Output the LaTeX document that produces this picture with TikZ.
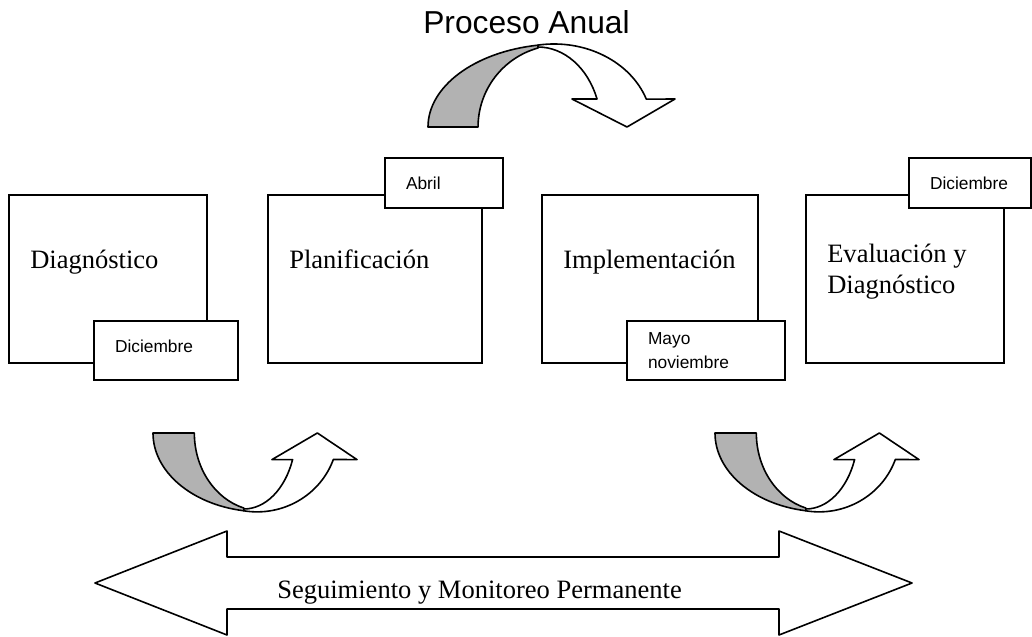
\documentclass[tikz,border=0pt]{standalone}
\usepackage{fontspec}
\setmainfont{Liberation Serif}
\newfontfamily\arialfont{Liberation Sans}
\definecolor{bandgray}{RGB}{178,178,178}
\tikzstyle{phase} = [rectangle, draw=black, line width=1.4pt, minimum width=148.5pt, minimum height=126pt, inner sep=0pt]
\tikzstyle{phasetext} = [inner sep=0pt, align=left, font=\fontsize{19.9pt}{23.25pt}\selectfont]
\tikzstyle{tag} = [rectangle, draw=black, fill=white, line width=1.4pt, minimum height=44.25pt, inner xsep=15.75pt, inner ysep=0pt, align=left, font=\arialfont\fontsize{13pt}{18pt}\selectfont]
\tikzstyle{band} = [draw=black, line width=1.2pt, line join=round]
\tikzset{
  curvedarrow/.pic={
    % back of the band
    \path[band, fill=bandgray] (0,0) arc[start angle=180, end angle=260.4, x radius=132, y radius=83]
      -- (110,-79) arc[start angle=254.4, end angle=180, radius=82] -- cycle;
    % front of the band with its head
    \path[band, fill=white] (110,-81.9) arc[start angle=260.6, end angle=340.4, x radius=98, y radius=83]
      -- (247,-28) -- (199,0) -- (144,-28) -- (169,-28)
      arc[start angle=339.5, end angle=270, x radius=63, y radius=80] -- cycle;
  }
}

\begin{document}
\begin{tikzpicture}[x=0.75pt, y=-0.75pt]
\useasboundingbox (0,0) rectangle (1032,636);

% Title and yearly arrow
\node (annualtitle) [anchor=base west, inner sep=0pt, font=\arialfont\fontsize{23.8pt}{28pt}\selectfont] at (423,33) {Proceso Anual};
\pic[shift={(428,127)}] {curvedarrow};

% Phase boxes
\node (diag) [phase] at (108,279) {};
\node (plan) [phase, minimum width=160.5pt] at (375,279) {};
\node (impl) [phase, minimum width=162pt] at (650,279) {};
\node (eval) [phase] at (905,279) {};

\node (diagtext) [phasetext, anchor=base west] at (30,268) {Diagnóstico};
\node (plantext) [phasetext, anchor=base west] at (289,268) {Planificación};
\node (impltext) [phasetext, anchor=base west] at (563,268) {Implementación};
\node (evaltext) [phasetext, anchor=north west] at (827,244) {Evaluación y\\Diagnóstico};

% Month tags
\node (diagtag) [tag, text width=76.5pt, text depth=7pt] at (166,350.5) {Diciembre};
\node (plantag) [tag, text width=57pt, minimum height=37.5pt] at (444,183) {Abril};
\node (impltag) [tag, text width=87pt] at (706,350.5) {Mayo\\noviembre};
\node (evaltag) [tag, text width=60pt, minimum height=37.5pt] at (970,183) {Diciembre};

% Loop arrows
\pic[shift={(153,433)}, xscale=0.826, yscale=-0.95] {curvedarrow};
\pic[shift={(715,433)}, xscale=0.826, yscale=-0.95] {curvedarrow};

% Permanent monitoring
\draw[band] (95,583) -- (227,531) -- (227,557) -- (779,557) -- (779,531) -- (912,583)
  -- (779,635) -- (779,609) -- (227,609) -- (227,635) -- cycle;
\node (monitortext) [anchor=base west, inner sep=0pt, font=\fontsize{19.9pt}{24pt}\selectfont] at (277,598) {Seguimiento y Monitoreo Permanente};

\end{tikzpicture}
\end{document}
